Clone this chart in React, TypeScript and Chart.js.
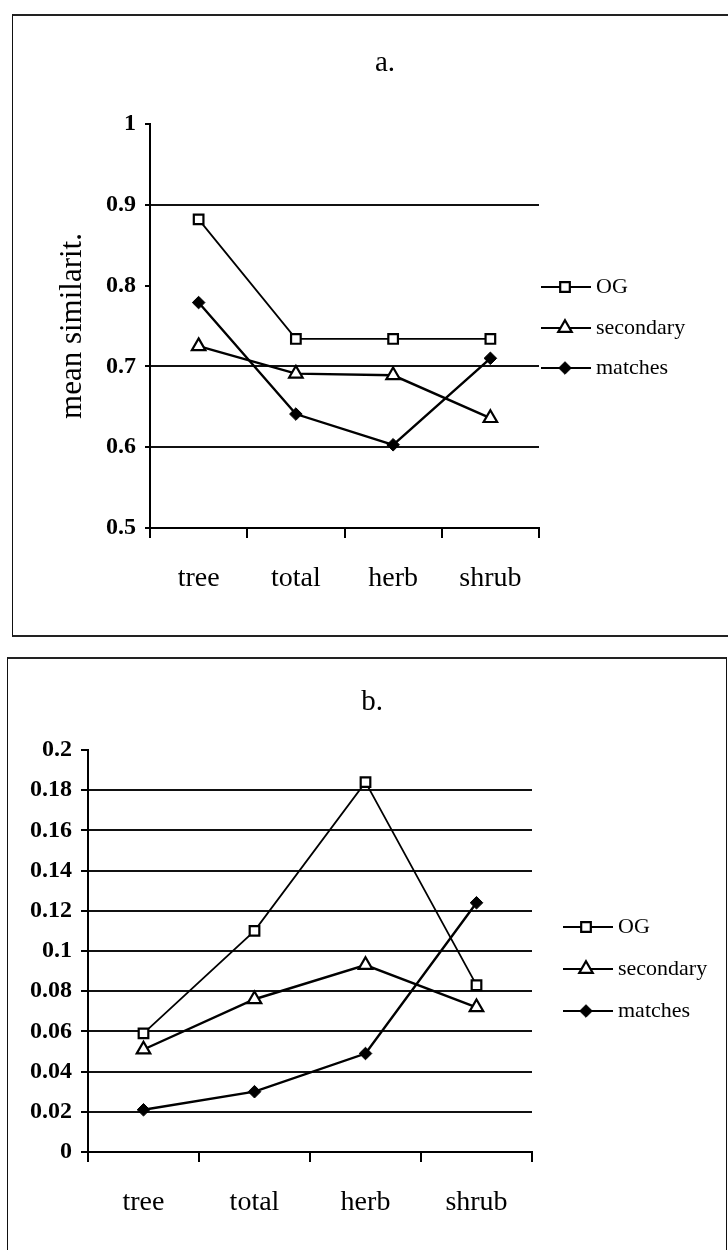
import React, { useEffect, useRef } from 'react';
import { Chart, registerables } from 'chart.js';

Chart.register(...registerables);

// ---------- data ----------
const categories = ['tree', 'total', 'herb', 'shrub'];
const seriesNames = ['OG', 'secondary', 'matches'];

const aOG = [0.882, 0.734, 0.734, 0.734];
const aSecondary = [0.725, 0.691, 0.689, 0.636];
const aMatches = [0.779, 0.641, 0.603, 0.71];

const bOG = [0.059, 0.11, 0.184, 0.083];
const bSecondary = [0.051, 0.076, 0.093, 0.072];
const bMatches = [0.021, 0.03, 0.049, 0.124];

const aTitle = 'a.';
const bTitle = 'b.';
const aAxisTitle = 'mean similarit.';

const aHiddenGrid = [1, 0.8];
const bHiddenGrid = [0.2];

const FONT = '"Liberation Serif", "DejaVu Serif", serif';

function drawMarker(ctx: CanvasRenderingContext2D, style: string, x: number, y: number, r: number, fill: string, bw: number) {
  ctx.save();
  ctx.beginPath();
  if (style === 'rect') {
    const s = Math.SQRT1_2 * r;
    ctx.rect(x - s, y - s, 2 * s, 2 * s);
  } else if (style === 'triangle') {
    for (let k = 0; k < 3; k++) {
      const a = (k * 2 * Math.PI) / 3;
      const px = x + Math.sin(a) * r;
      const py = y - Math.cos(a) * r;
      if (k === 0) ctx.moveTo(px, py);
      else ctx.lineTo(px, py);
    }
    ctx.closePath();
  } else {
    ctx.moveTo(x, y - r);
    ctx.lineTo(x + r, y);
    ctx.lineTo(x, y + r);
    ctx.lineTo(x - r, y);
    ctx.closePath();
  }
  ctx.fillStyle = fill;
  ctx.fill();
  ctx.lineWidth = bw;
  ctx.strokeStyle = '#000';
  ctx.stroke();
  ctx.restore();
}

function makeDecor(cfg: any) {
  return {
    id: 'decor',
    afterDraw(chart: any) {
      const ctx: CanvasRenderingContext2D = chart.ctx;
      ctx.save();
      ctx.fillStyle = '#000';
      ctx.font = `29px ${FONT}`;
      ctx.textAlign = 'center';
      ctx.textBaseline = 'middle';
      ctx.fillText(cfg.title, cfg.titleX, cfg.titleY);
      chart.data.datasets.forEach((ds: any, i: number) => {
        const y = cfg.legendY[i];
        ctx.strokeStyle = '#000';
        ctx.lineWidth = 2;
        ctx.beginPath();
        ctx.moveTo(cfg.lx0, y);
        ctx.lineTo(cfg.lx1, y);
        ctx.stroke();
        drawMarker(ctx, ds.pointStyle, cfg.mx, y, ds.pointRadius, ds.pointBackgroundColor, ds.pointBorderWidth);
        ctx.fillStyle = '#000';
        ctx.font = `22px ${FONT}`;
        ctx.textAlign = 'left';
        ctx.textBaseline = 'middle';
        ctx.fillText(ds.label, cfg.tx, y);
      });
      ctx.restore();
    },
  };
}

const fmt = (v: number) => String(Number(Number(v).toFixed(3)));

function makeConfig(p: any): any {
  const isHidden = (v: number) => p.hidden.some((h: number) => Math.abs(h - v) < 1e-6);
  return {
    type: 'line',
    data: {
      labels: categories,
      datasets: [
        {
          label: seriesNames[0], data: p.og, borderColor: '#000', borderWidth: 1.8,
          pointStyle: 'rect', pointRadius: 6.8, pointBackgroundColor: '#fff', pointBorderColor: '#000', pointBorderWidth: 2.2,
        },
        {
          label: seriesNames[1], data: p.sec, borderColor: '#000', borderWidth: 2.4,
          pointStyle: 'triangle', pointRadius: 7.8, pointBackgroundColor: '#fff', pointBorderColor: '#000', pointBorderWidth: 2.2,
        },
        {
          label: seriesNames[2], data: p.mat, borderColor: '#000', borderWidth: 2.4,
          pointStyle: 'rectRot', pointRadius: 6.3, pointBackgroundColor: '#000', pointBorderColor: '#000', pointBorderWidth: 1,
        },
      ],
    },
    options: {
      responsive: false,
      animation: false,
      events: [],
      layout: { padding: { left: 0, top: p.top, right: p.right, bottom: p.bottom } },
      plugins: { legend: { display: false }, title: { display: false }, tooltip: { enabled: false } },
      scales: {
        x: {
          type: 'category',
          offset: true,
          grid: {
            offset: true, drawOnChartArea: false, drawTicks: true, tickLength: 10,
            color: '#000', tickColor: '#000', lineWidth: 2, tickWidth: 2,
          },
          border: { display: true, color: '#000', width: 2 },
          ticks: {
            color: '#000', font: { family: FONT, size: 28 }, padding: 24, maxRotation: 0, autoSkip: false,
          },
          afterFit: (s: any) => { s.height = 80; },
        },
        y: {
          min: p.min, max: p.max,
          ticks: {
            stepSize: p.step, color: '#000', font: { family: FONT, size: 24, weight: 'bold' }, padding: 9,
            callback: (v: any) => fmt(v),
          },
          grid: {
            color: (c: any) => (c.tick && isHidden(c.tick.value) ? 'rgba(0,0,0,0)' : '#111'),
            tickColor: '#000', lineWidth: 2, tickWidth: 2, tickLength: p.yTick, drawTicks: true,
          },
          border: { display: true, color: '#000', width: 2 },
          title: p.axisTitle
            ? { display: true, text: p.axisTitle, color: '#000', font: { family: FONT, size: 31 }, padding: { top: 54, bottom: 0 } }
            : { display: false },
          afterFit: (s: any) => { s.width = p.yW; },
        },
      },
    },
    plugins: [makeDecor(p.decor)],
  };
}

function ChartCanvas({ cfg, width, height, left, top }: any) {
  const ref = useRef<HTMLCanvasElement | null>(null);
  useEffect(() => {
    if (!ref.current) return;
    const chart = new Chart(ref.current, cfg);
    return () => chart.destroy();
  }, []);
  return (
    <canvas
      ref={ref}
      width={width}
      height={height}
      style={{ position: 'absolute', left, top, width, height, display: 'block' }}
    />
  );
}

const cfgA = makeConfig({
  og: aOG, sec: aSecondary, mat: aMatches,
  min: 0.5, max: 1, step: 0.1, hidden: aHiddenGrid,
  top: 124, right: 728 - 539, bottom: 640 - 528 - 80, yW: 150, yTick: 5,
  axisTitle: aAxisTitle,
  decor: { title: aTitle, titleX: 385, titleY: 63, legendY: [287, 328, 368], lx0: 541, lx1: 591, mx: 565, tx: 596 },
});

const cfgB = makeConfig({
  og: bOG, sec: bSecondary, mat: bMatches,
  min: 0, max: 0.2, step: 0.02, hidden: bHiddenGrid,
  top: 110, right: 728 - 532, bottom: 610 - 512 - 80, yW: 88, yTick: 7,
  axisTitle: null,
  decor: { title: bTitle, titleX: 372, titleY: 702 - 640, legendY: [927 - 640, 969 - 640, 1011 - 640], lx0: 563, lx1: 613, mx: 586, tx: 618 },
});

export default function App() {
  return (
    <div style={{ position: 'absolute', left: 0, top: 0, width: 728, height: 1250, overflow: 'hidden', background: '#fff' }}>
      <div
        style={{
          position: 'absolute', left: 12, top: 14, width: 716, height: 623, boxSizing: 'border-box',
          borderTop: '2px solid #222', borderLeft: '1px solid #111', borderBottom: '2px solid #222',
        }}
      />
      <div
        style={{
          position: 'absolute', left: 7, top: 657, width: 720, height: 650, boxSizing: 'border-box',
          borderTop: '2px solid #222', borderLeft: '1px solid #111', borderRight: '1px solid #111',
        }}
      />
      <ChartCanvas cfg={cfgA} width={728} height={640} left={0} top={0} />
      <ChartCanvas cfg={cfgB} width={728} height={610} left={0} top={640} />
    </div>
  );
}
